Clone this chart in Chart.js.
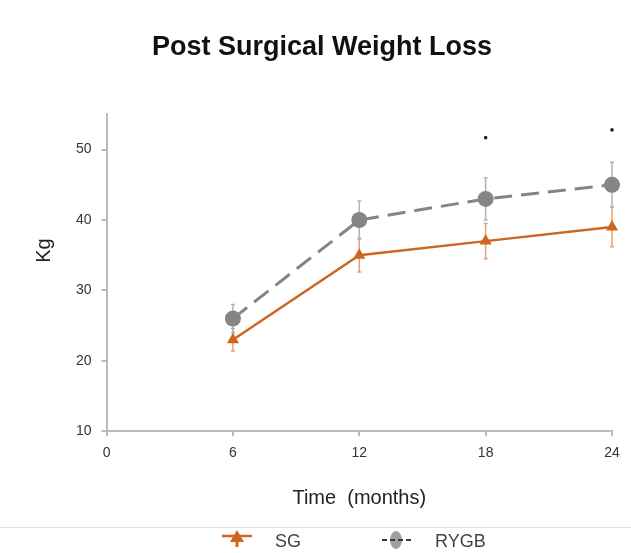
<!DOCTYPE html>
<html>
<head>
<meta charset="utf-8">
<script src="https://cdn.jsdelivr.net/npm/chart.js@4.4.1/dist/chart.umd.min.js"></script>
<style>
  html, body { margin: 0; padding: 0; background: #fff; }
  #wrap { width: 631px; height: 553px; position: relative; }
</style>
</head>
<body>
<div id="wrap"><canvas id="grafico"></canvas></div>
<script>
const meses = [6, 12, 18, 24];
const sg = [23, 35, 37, 39];
const sgError = [1.6, 2.4, 2.5, 2.8];
const rygb = [26, 40, 43, 45];
const rygbError = [2, 2.7, 3, 3.2];
const asteriscos = [[18, 51.7], [24, 52.8]];
const ticksX = [0, 6, 12, 18, 24];
const ticksY = [10, 20, 30, 40, 50];

const naranja = '#cf661f';
const gris = '#858585';
const fuente = 'Liberation Sans';

// barras de error, por debajo de los puntos
const barrasError = {
  id: 'barrasError',
  beforeDatasetsDraw(chart) {
    const ctx = chart.ctx;
    const x = chart.scales.x, y = chart.scales.y;
    const series = [
      { datos: sg, err: sgError, color: '#e3a072' },
      { datos: rygb, err: rygbError, color: '#b3b3b3' }
    ];
    ctx.save();
    ctx.lineWidth = 1.5;
    series.forEach(s => {
      ctx.strokeStyle = s.color;
      s.datos.forEach((v, i) => {
        const px = x.getPixelForValue(meses[i]);
        const top = y.getPixelForValue(v + s.err[i]);
        const bot = y.getPixelForValue(v - s.err[i]);
        ctx.beginPath();
        ctx.moveTo(px, top); ctx.lineTo(px, bot);
        ctx.moveTo(px - 2, top); ctx.lineTo(px + 2, top);
        ctx.moveTo(px - 2, bot); ctx.lineTo(px + 2, bot);
        ctx.stroke();
      });
    });
    ctx.restore();
  }
};

// leyenda dibujada a mano, debajo de una linea gris
const leyenda = {
  id: 'leyenda',
  afterDraw(chart) {
    const ctx = chart.ctx;
    ctx.save();
    ctx.strokeStyle = '#dddddd';
    ctx.lineWidth = 1;
    ctx.beginPath(); ctx.moveTo(0, 527.5); ctx.lineTo(631, 527.5); ctx.stroke();

    // SG
    ctx.strokeStyle = naranja; ctx.lineWidth = 2.5;
    ctx.beginPath(); ctx.moveTo(222, 536); ctx.lineTo(252, 536); ctx.stroke();
    ctx.fillStyle = naranja;
    ctx.beginPath(); ctx.moveTo(237, 530); ctx.lineTo(244, 542); ctx.lineTo(230, 542); ctx.closePath(); ctx.fill();
    ctx.fillRect(235.5, 536, 3, 11);

    // RYGB
    ctx.fillStyle = '#a0a0a0';
    ctx.beginPath(); ctx.ellipse(396, 540, 6, 9, 0, 0, Math.PI * 2); ctx.fill();
    ctx.strokeStyle = '#3a3a3a'; ctx.lineWidth = 2; ctx.setLineDash([5, 3]);
    ctx.beginPath(); ctx.moveTo(382, 540); ctx.lineTo(411, 540); ctx.stroke();

    ctx.fillStyle = '#444';
    ctx.font = '18px ' + fuente;
    ctx.textBaseline = 'middle';
    ctx.fillText('SG', 275, 542);
    ctx.fillText('RYGB', 435, 542);
    ctx.restore();
  }
};

new Chart(document.getElementById('grafico'), {
  type: 'line',
  data: {
    datasets: [
      {
        label: 'RYGB',
        data: meses.map((m, i) => ({ x: m, y: rygb[i] })),
        borderColor: gris,
        backgroundColor: gris,
        borderWidth: 3,
        borderDash: [18, 9],
        pointStyle: 'circle',
        pointRadius: 8,
        pointBorderWidth: 0,
        clip: false,
        order: 2
      },
      {
        label: 'SG',
        data: meses.map((m, i) => ({ x: m, y: sg[i] })),
        borderColor: naranja,
        backgroundColor: naranja,
        borderWidth: 2.5,
        pointStyle: 'triangle',
        pointRadius: 7,
        pointBorderWidth: 0,
        clip: false,
        order: 1
      },
      {
        label: 'sig',
        type: 'scatter',
        data: asteriscos.map(a => ({ x: a[0], y: a[1] })),
        backgroundColor: '#222',
        pointRadius: 1.8,
        pointBorderWidth: 0,
        clip: false
      }
    ]
  },
  options: {
    responsive: true,
    maintainAspectRatio: false,
    animation: false,
    layout: { padding: { left: 32, right: 19, bottom: 43 } },
    plugins: {
      title: {
        display: true,
        text: 'Post Surgical Weight Loss',
        color: '#111',
        font: { family: fuente, size: 27, weight: 'bold' },
        padding: { top: 31, bottom: 51 }
      },
      legend: { display: false },
      tooltip: { enabled: false }
    },
    scales: {
      x: {
        type: 'linear',
        min: 0,
        max: 24,
        afterBuildTicks: s => { s.ticks = ticksX.map(v => ({ value: v })); },
        border: { color: '#bbbbbb', width: 2 },
        grid: { drawOnChartArea: false, color: '#bbbbbb', tickLength: 5, lineWidth: 2 },
        ticks: { color: '#333', font: { family: fuente, size: 14 }, padding: 9 },
        title: {
          display: true, text: 'Time  (months)', color: '#222',
          font: { family: fuente, size: 20 }, padding: { top: 15, bottom: 0 }
        }
      },
      y: {
        min: 10,
        max: 55,
        afterBuildTicks: s => { s.ticks = ticksY.map(v => ({ value: v })); },
        border: { color: '#bbbbbb', width: 2 },
        grid: { drawOnChartArea: false, color: '#bbbbbb', tickLength: 5, lineWidth: 2 },
        ticks: { color: '#333', font: { family: fuente, size: 14 }, padding: 10 },
        title: {
          display: true, text: '        Kg', color: '#222',
          font: { family: fuente, size: 20 }, padding: { top: 0, bottom: 10 }
        }
      }
    }
  },
  plugins: [barrasError, leyenda]
});
</script>
</body>
</html>
